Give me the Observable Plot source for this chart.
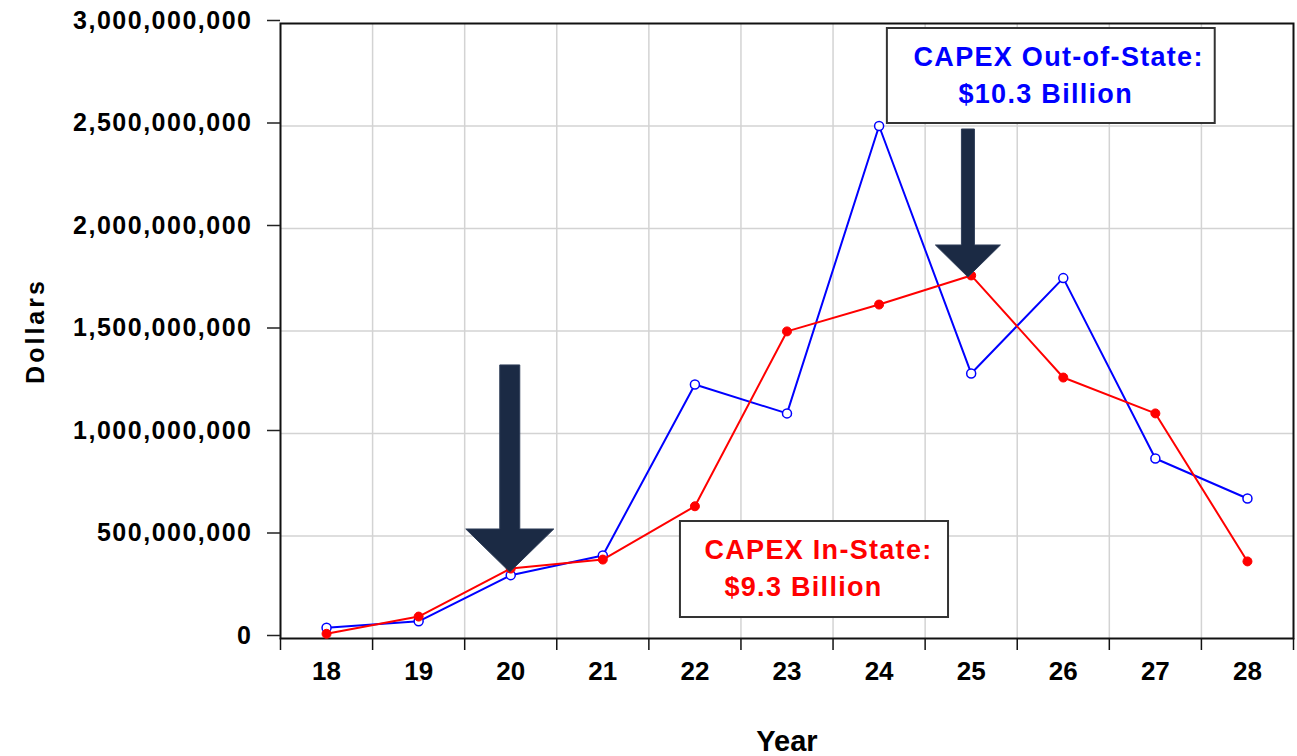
<!DOCTYPE html>
<html>
<head>
<meta charset="utf-8">
<script src="https://cdn.jsdelivr.net/npm/d3@7"></script>
<script src="https://cdn.jsdelivr.net/npm/@observablehq/plot@0.6"></script>
<style>
  html, body { margin: 0; padding: 0; background: white; }
  #chart { width: 1297px; height: 756px; }
  g[aria-label="y-axis tick label"] text { letter-spacing: 1.5px; }
</style>
</head>
<body>
<div id="chart"></div>
<script>
// ---- data (millions of dollars) ----
const years = [18, 19, 20, 21, 22, 23, 24, 25, 26, 27, 28];
const outOfState = [53, 84, 309, 405, 1239, 1098, 2500, 1293, 1758, 878, 683];
const inState = [23, 107, 341, 385, 645, 1498, 1629, 1771, 1273, 1098, 376];
const yTicks = [0, 500000000, 1000000000, 1500000000, 2000000000, 2500000000, 3000000000];
const yearBounds = [17.5, 18.5, 19.5, 20.5, 21.5, 22.5, 23.5, 24.5, 25.5, 26.5, 27.5, 28.5];
const outLabel = ["CAPEX Out-of-State:", "$10.3 Billion"];
const inLabel = ["CAPEX In-State:", "$9.3 Billion"];

const outRows = years.map((yr, i) => ({year: yr, value: outOfState[i] * 1e6}));
const inRows = years.map((yr, i) => ({year: yr, value: inState[i] * 1e6}));

// ---- annotation layout (data coordinates) ----
const boxes = [
  {x1: 24.09, x2: 27.65, y1: 2.9756e9, y2: 2.5122e9},
  {x1: 21.843, x2: 24.754, y1: 570.7e6, y2: 102.4e6}
];
const noteText = [
  {x: 24.374, y: 2.7951e9, text: outLabel[0], color: "#0000ff"},
  {x: 24.862, y: 2.6146e9, text: outLabel[1], color: "#0000ff"},
  {x: 22.104, y: 385.4e6, text: inLabel[0], color: "#ff0000"},
  {x: 22.321, y: 204.9e6, text: inLabel[1], color: "#ff0000"}
];
const arrows = [
  {x: 19.995, tip: 322e6, top: 1332e6, shaft: 20, head: 88, headLen: 43},
  {x: 24.97, tip: 1761e6, top: 2483e6, shaft: 13, head: 65, headLen: 32}
];

function arrowMark(index, scales) {
  const g = d3.create("svg:g").attr("aria-label", "arrows");
  for (const a of arrows) {
    const cx = scales.x(a.x), tipY = scales.y(a.tip), topY = scales.y(a.top);
    const headY = tipY - a.headLen;
    const pts = [
      [cx - a.shaft / 2, topY], [cx + a.shaft / 2, topY], [cx + a.shaft / 2, headY],
      [cx + a.head / 2, headY], [cx, tipY], [cx - a.head / 2, headY], [cx - a.shaft / 2, headY]
    ];
    g.append("polygon")
      .attr("points", pts.map(p => p.join(",")).join(" "))
      .attr("fill", "#1b2a44")
      .attr("stroke", "#2e3d58")
      .attr("stroke-width", 1);
  }
  return g.node();
}

const chart = Plot.plot({
  width: 1297,
  height: 756,
  marginLeft: 280,
  marginRight: 4,
  marginTop: 23,
  marginBottom: 118,
  style: {fontFamily: "'Liberation Sans', Arial, sans-serif", background: "white", color: "black"},
  x: {domain: [17.5, 28.5], label: null},
  y: {domain: [0, 3e9], label: null},
  marks: [
    Plot.gridX(yearBounds.slice(1, -1), {stroke: "#d3d3d3", strokeOpacity: 1, strokeWidth: 1.5}),
    Plot.gridY(yTicks.slice(1, -1), {stroke: "#d3d3d3", strokeOpacity: 1, strokeWidth: 1.5}),
    Plot.frame({stroke: "#111", strokeWidth: 2}),
    Plot.axisX(yearBounds, {tickSize: 12, tickFormat: () => "", stroke: "#111", strokeWidth: 1.5, label: null}),
    Plot.axisX(years, {tickSize: 0, tickPadding: 23, tickFormat: d => String(d), fontSize: 26, fontWeight: "bold", fill: "black", label: null}),
    Plot.axisY(yTicks, {tickSize: 13, tickPadding: 15, tickFormat: d3.format(","), fontSize: 25, fontWeight: "bold", fill: "black", stroke: "#222", strokeWidth: 1.5, dy: -3, label: null}),
    Plot.rect(boxes, {x1: "x1", x2: "x2", y1: "y1", y2: "y2", fill: "white", stroke: "#333", strokeWidth: 2}),
    Plot.text(noteText, {x: "x", y: "y", text: "text", fill: "color", textAnchor: "start", lineAnchor: "bottom", fontSize: 27, fontWeight: "bold"}),
    Plot.line(outRows, {x: "year", y: "value", stroke: "#0000ff", strokeWidth: 2}),
    Plot.dot(outRows, {x: "year", y: "value", r: 4.5, fill: "white", stroke: "#0000ff", strokeWidth: 1.5}),
    Plot.line(inRows, {x: "year", y: "value", stroke: "#ff0000", strokeWidth: 2}),
    Plot.dot(inRows, {x: "year", y: "value", r: 4.5, fill: "#ff0000", stroke: "#ff0000", strokeWidth: 1}),
    arrowMark,
    Plot.text(["Year"], {frameAnchor: "bottom", dy: 112, lineAnchor: "bottom", fontSize: 29, fontWeight: "bold", fill: "black"}),
    Plot.text(["Dollars"], {frameAnchor: "left", dx: -245, textAnchor: "middle", lineAnchor: "middle", rotate: -90, fontSize: 25, fontWeight: "bold", fill: "black"})
  ]
});
d3.select(chart).selectAll("text").each(function () {
  const t = this.textContent;
  if (/CAPEX|Billion/.test(t)) this.style.letterSpacing = "1.3px";
  if (t === "Dollars") this.style.letterSpacing = "3px";
});
document.getElementById("chart").appendChild(chart);
</script>
</body>
</html>
